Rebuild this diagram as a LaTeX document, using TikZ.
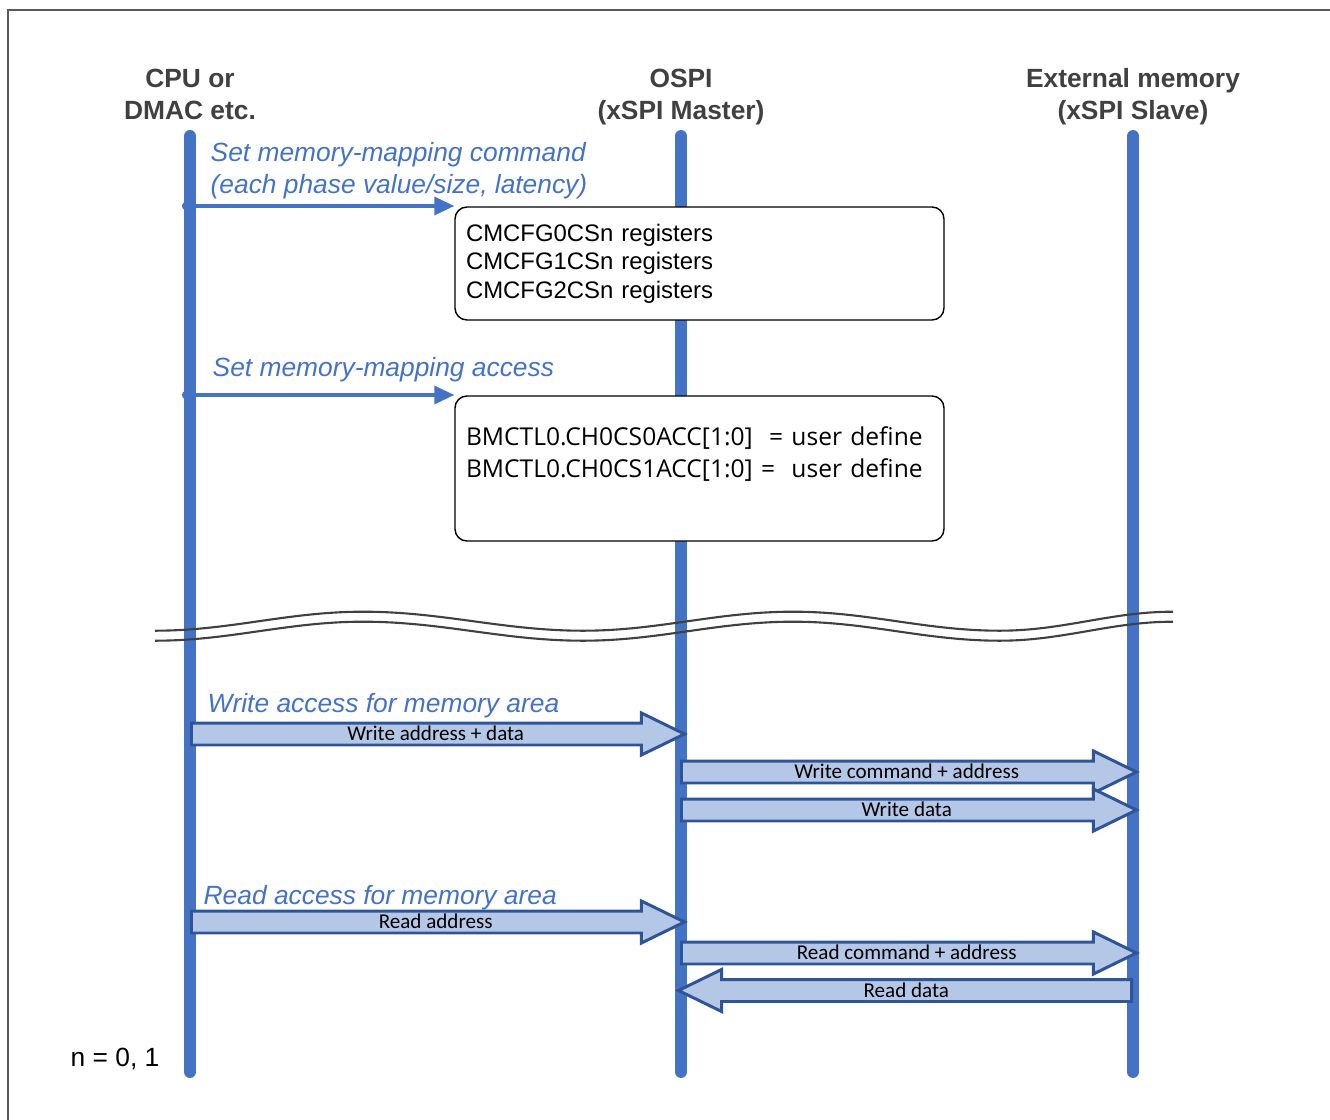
\documentclass[tikz,border=0pt]{standalone}
\usepackage{fontspec}
\setmainfont{Liberation Sans}
\newfontfamily\calfont{Carlito}
\newfontfamily\segfont{Open Sans}
\usetikzlibrary{arrows.meta,shapes.arrows}
\definecolor{LineBlue}{HTML}{4472C4}
\definecolor{ArrowFill}{HTML}{B4C7E7}
\definecolor{ArrowDraw}{HTML}{2F5597}
\definecolor{HeadGray}{HTML}{404040}
\definecolor{FrameGray}{HTML}{595959}

\begin{document}
\begin{tikzpicture}[
  lifeline/.style={line width=3.4pt, draw=LineBlue, line cap=round},
  head/.style={align=center, text=HeadGray, font=\fontsize{7.5}{9.1}\selectfont\bfseries},
  note/.style={anchor=west, inner sep=0pt, align=left, text=LineBlue, font=\fontsize{7.5}{9.1}\selectfont\itshape},
  regbox/.style={rectangle, rounded corners=3.4pt, draw=black, line width=0.4pt, fill=white, minimum width=4.89cm, inner xsep=0.11cm, text width=4.67cm, align=left},
  msg/.style={{Circle[length=0.08cm]}-{Triangle[length=0.2cm, width=0.18cm]}, line width=1pt, draw=LineBlue},
  blk/.style={single arrow, single arrow head extend=0.1cm, single arrow tip angle=52, draw=ArrowDraw, fill=ArrowFill, line width=0.85pt, anchor=tail, inner xsep=0pt, inner ysep=0.0225cm, text height=0.14cm, text depth=0.005cm, font=\calfont\fontsize{6}{7}\selectfont},
  fwd/.style={blk, execute at begin node={\hspace*{0.18cm}}},
  back/.style={blk, shape border rotate=180, execute at end node={\hspace*{0.2cm}}},
  wave/.style={line width=0.6pt, draw=HeadGray}
]
\useasboundingbox (0,0) rectangle (13.3,-11.2);

% frame
\draw[FrameGray, line width=0.6pt] (13.3,-0.10) -| (0.08,-11.2);

% participants
\node[head] (cpu) at (1.9,-0.94) {CPU or\\DMAC etc.};
\node[head] (ospi) at (6.81,-0.97) {OSPI\\(xSPI Master)};
\node[head] (mem) at (11.33,-0.97) {External memory\\(xSPI Slave)};

\foreach \n in {cpu,ospi,mem}
  \draw[lifeline] (\n.south |- 0,-1.36) -- (\n.south |- 0,-10.72);

% setting phase
\node[note] (cmdnote) at (2.10,-1.71) {Set memory-mapping command\\(each phase value/size, latency)};
\node[regbox, minimum height=1.13cm, font=\fontsize{6.8}{8.1}\selectfont] (cfgbox) at (6.995,-2.635) {CMCFG0CSn registers\\CMCFG1CSn registers\\CMCFG2CSn registers};
\coordinate (cfgsrc) at (1.82,-2.06);
\draw[msg] (cfgsrc) -- (cfgsrc -| cfgbox.west);

\node[note] (accnote) at (2.12,-3.70) {Set memory-mapping access};
\node[regbox, minimum height=1.45cm, font=\segfont\fontsize{7.0}{9.1}\selectfont] (accbox) at (6.995,-4.685) {BMCTL0.CH0CS0ACC[1:0]\ \ = user define\\BMCTL0.CH0CS1ACC[1:0] =\ \ user define\\\mbox{}};
\coordinate (accsrc) at (1.82,-3.95);
\draw[msg] (accsrc) -- (accsrc -| accbox.west);

% break
\foreach \dy in {0,-0.1}
  \draw[wave, yshift=\dy cm] (1.55,-6.307) cos (2.59,-6.212) sin (3.63,-6.117) cos (4.73,-6.212) sin (5.83,-6.307)
    cos (6.88,-6.212) sin (7.93,-6.117) cos (8.965,-6.212) sin (10.0,-6.307) cos (10.87,-6.212) sin (11.73,-6.117);

% write access
\node[note] (wrnote) at (2.07,-7.06) {Write access for memory area};
\node[fwd, minimum height=4.93cm] (wraddr) at (1.9,-7.34) {Write address + data};
\node[fwd, minimum height=4.55cm] (wrcmd) at (6.80,-7.72) {Write command + address};
\node[fwd, minimum height=4.55cm] (wrdata) at (6.80,-8.10) {Write data};

% read access
\node[note] (rdnote) at (2.03,-8.98) {Read access for memory area};
\node[fwd, minimum height=4.93cm] (rdaddr) at (1.9,-9.22) {Read address};
\node[fwd, minimum height=4.55cm] (rdcmd) at (6.80,-9.53) {Read command + address};
\node[back, minimum height=4.53cm] (rddata) at (11.33,-9.905) {Read data};

\node[anchor=west, inner sep=0pt, font=\fontsize{7.5}{9}\selectfont] (nnote) at (0.70,-10.59) {n = 0, 1};
\end{tikzpicture}
\end{document}
